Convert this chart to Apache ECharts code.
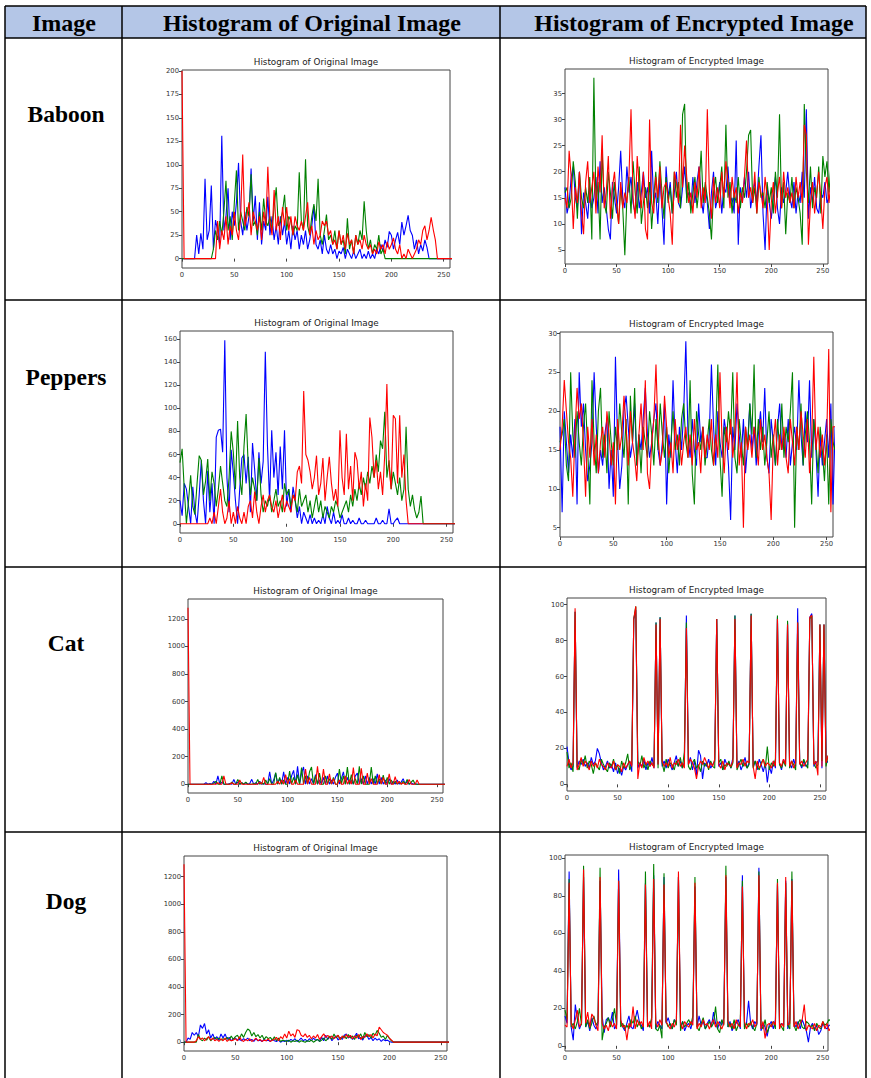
<!DOCTYPE html>
<html><head><meta charset="utf-8">
<script src="https://cdn.jsdelivr.net/npm/echarts@6/dist/echarts.min.js"></script>
<style>html,body{margin:0;padding:0;background:#fff}#c{width:871px;height:1078px}</style>
</head><body><div id="c"></div>
<script>
// ---------- texts ----------
const headers = ["Image", "Histogram of Original Image", "Histogram of Encrypted Image"];
const rowNames = ["Baboon", "Peppers", "Cat", "Dog"];
const origTitle = "Histogram of Original Image";
const encTitle = "Histogram of Encrypted Image";

// ---------- tick labels ----------
const xTicks = [0, 50, 100, 150, 200, 250];
const baboonOrigYTicks = [0, 25, 50, 75, 100, 125, 150, 175, 200];
const baboonEncYTicks = [5, 10, 15, 20, 25, 30, 35];
const peppersOrigYTicks = [0, 20, 40, 60, 80, 100, 120, 140, 160];
const peppersEncYTicks = [5, 10, 15, 20, 25, 30];
const catOrigYTicks = [0, 200, 400, 600, 800, 1000, 1200];
const catEncYTicks = [0, 20, 40, 60, 80, 100];
const dogOrigYTicks = [0, 200, 400, 600, 800, 1000, 1200];
const dogEncYTicks = [0, 20, 40, 60, 80, 100];

// ---------- data: one value every 2 intensity levels (0,2,4,...) ----------
const baboonOrigBlue = [
0,0,0,0,0,0,0,25,5,27, 10,85,20,30,78,10,41,30,15,131, 30,45,75,20,50,35,60,102,40,25,
50,30,45,96,40,67,20,60,15,40, 30,66,25,45,20,35,15,45,25,40, 15,30,10,35,20,30,10,25,15,30,
10,20,35,56,15,10,20,5,25,10, 5,15,5,10,0,8,5,12,0,10, 5,0,8,0,5,10,0,5,0,8,
0,5,0,10,5,15,8,20,12,29, 25,10,20,28,15,39,25,35,46,30, 25,10,20,5,15,8,20,12,0,0,
0,0,0,0,0,0,0,0,0,0];
const baboonOrigGreen = [
0,0,0,0,0,0,0,0,0,0, 0,0,0,0,0,10,30,20,40,25, 50,83,30,45,20,60,94,30,50,40,
30,55,45,90,35,40,25,50,30,64, 40,35,45,30,55,76,35,40,50,68, 30,45,40,25,35,30,92,40,30,106,
35,25,45,58,40,85,25,15,30,47, 20,25,15,30,10,30,15,20,5,43, 10,20,5,25,15,30,20,61,30,10,
20,5,15,10,25,5,10,0,0,0, 0,0,0,0,0,0,0,0,0,0, 0,0,0,0,0,0,0,0,0,0,
0,0,0,0,0,0,0,0,0,0];
const baboonOrigRed = [
200,0,0,0,0,0,0,0,0,0, 0,0,0,0,0,0,0,40,10,30, 20,45,15,35,25,50,30,20,45,111,
35,45,60,25,50,40,30,45,20,50, 35,98,40,25,73,30,45,20,55,35, 55,30,45,25,45,35,30,40,30,45,
60,25,35,15,30,20,25,40,35,40, 25,30,15,20,10,30,15,25,10,27, 15,20,5,25,15,20,10,25,15,10,
15,5,10,5,18,10,15,5,18,10, 15,22,10,5,15,0,5,0,10,5, 0,5,10,20,15,30,35,20,30,44,
31,20,0,0,0,0,0,0,0,0];

const baboonEncBlue = [
17,12,14,19,21,15,13,20,8,16, 14,11,17,13,15,19,12,22,14,17, 13,9,7,18,15,12,17,24,15,13,
21,16,19,14,12,18,13,16,20,15, 17,12,24,14,16,10,19,13,6,21, 15,18,12,16,20,14,13,17,21,15,
16,13,19,14,18,21,15,12,17,14, 9,16,20,13,15,18,12,17,16,21, 14,15,12,26,6,17,14,19,15,20,
13,16,18,14,21,27,12,5,17,14, 11,15,19,13,10,17,14,16,20,15, 13,18,12,16,14,20,15,32,11,17,
14,19,13,12,16,15,18,14,15,15];
const baboonEncGreen = [
16,17,13,15,22,18,11,20,15,13, 17,14,19,7,38,14,18,7,24,14, 12,20,16,11,18,14,10,17,13,4,
15,19,12,22,16,12,21,10,14,17, 13,18,9,15,20,14,22,16,11,19, 14,17,12,20,15,18,13,31,33,14,
18,12,16,19,13,17,24,14,18,15, 12,7,16,19,14,17,21,13,29,15, 18,12,16,14,19,13,17,15,20,27,
28,14,17,12,19,15,16,13,18,14, 17,12,20,15,31,13,18,8,16,14, 19,13,17,15,12,6,33,20,14,21,
13,17,15,21,12,23,19,22,16,22];
const baboonEncRed = [
15,13,24,19,9,17,14,20,12,8, 18,22,14,17,20,12,21,16,27,13, 16,23,11,17,20,14,10,18,13,16,
14,19,32,15,11,23,17,13,20,9, 7,30,14,12,19,15,21,13,17,18, 15,12,6,20,18,14,29,17,25,19,
14,16,12,18,15,21,13,17,14,32, 16,11,19,14,17,13,20,15,22,18, 13,19,15,17,12,16,14,19,26,15,
17,14,20,12,18,16,13,19,15,5, 14,18,12,16,19,13,20,15,17,14, 16,13,19,15,18,14,29,27,6,14,
18,12,16,20,15,9,17,19,14,19];

const peppersOrigBlue = [
20,7,35,30,15,0,32,10,0,25, 55,20,0,46,10,35,0,75,81,82, 62,159,40,10,64,44,20,0,30,57,
60,35,58,10,70,47,20,62,35,54, 149,68,20,81,40,62,25,67,30,81, 15,30,10,32,20,5,15,0,10,5,
0,8,0,5,0,3,0,8,0,15, 5,0,10,0,3,0,8,0,0,5, 0,3,0,0,5,0,0,3,0,0,
0,0,5,0,0,3,0,0,13,0, 0,3,5,0,0,0,0,0,0,0, 0,0,0,0,0,0,0,0,0,0,
0,0,0,0,0,0,0,0,0,0];
const peppersOrigGreen = [
53,65,30,0,20,42,15,8,35,59, 55,25,37,56,20,45,35,15,30,50, 35,20,15,40,80,62,30,89,40,25,
67,95,50,25,40,30,20,57,25,10, 20,15,25,10,20,30,15,20,10,35, 25,30,15,25,20,10,30,15,20,25,
10,20,5,15,25,10,20,5,15,10, 5,15,10,20,15,5,10,15,20,10, 25,15,30,20,35,25,40,30,45,35,
50,40,60,45,72,65,97,40,55,30, 45,35,25,40,20,30,84,30,15,25, 12,5,10,24,0,0,0,0,0,0,
0,0,0,0,0,0,0,0,0,0];
const peppersOrigRed = [
0,0,0,0,0,0,0,0,0,0, 0,0,0,0,5,0,10,0,15,30, 10,0,5,20,0,10,0,15,5,0,
10,0,15,20,5,28,10,0,15,25, 10,20,25,15,10,20,5,15,25,10, 20,15,10,25,20,45,50,35,115,60,
55,45,30,40,59,25,35,57,20,40, 58,35,20,30,15,81,40,25,78,30, 50,20,62,55,30,45,15,35,20,92,
75,40,55,30,45,25,60,121,50,30, 94,91,35,94,40,60,20,0,0,0, 0,0,0,0,0,0,0,0,0,0,
0,0,0,0,0,0,0,0,0,0];

const peppersEncBlue = [
18,7,20,16,12,17,14,19,8,25, 18,21,15,11,13,16,25,18,12,15, 13,17,19,10,15,9,27,16,10,13,
20,22,18,14,16,21,13,17,15,19, 23,17,14,16,19,21,15,13,16,21, 8,17,14,24,16,12,18,15,20,29,
17,14,19,15,13,21,16,18,14,14, 17,26,18,13,20,16,14,19,17,13, 6,18,15,21,17,14,19,12,16,21,
15,18,13,17,20,16,23,14,12,19, 16,13,18,21,15,17,14,19,13,16, 18,15,24,17,13,20,16,24,14,19,
15,9,17,13,16,19,14,21,8,18];
const peppersEncGreen = [
16,17,19,13,11,25,17,14,20,16, 13,18,21,15,8,24,16,12,20,23, 14,17,12,20,16,13,18,15,21,17,
14,19,8,22,16,23,13,17,12,18, 16,14,20,17,13,19,15,21,17,14, 18,12,16,20,15,17,13,19,21,16,
14,24,12,8,20,17,15,18,13,16, 19,15,13,17,26,14,9,18,16,20, 17,25,14,12,19,16,13,18,15,21,
17,26,14,19,15,18,13,16,20,14, 17,13,19,15,21,14,18,16,20,25, 5,18,15,21,13,17,20,16,8,19,
16,12,18,15,11,17,8,19,16,15];
const peppersEncRed = [
15,18,24,20,16,14,9,17,23,19, 21,16,9,18,14,19,13,17,12,16, 18,14,20,17,13,16,8,19,15,17,
22,18,13,20,16,14,11,17,21,15, 24,12,10,16,19,26,17,13,15,22, 18,14,16,12,19,15,17,13,16,18,
14,17,13,19,15,16,12,18,14,17, 15,19,13,17,14,25,16,12,18,15, 19,14,17,25,13,16,5,18,15,17,
14,18,16,13,19,15,17,14,12,6, 16,19,13,17,15,18,14,12,19,16, 13,18,15,20,17,14,19,12,16,27,
15,18,14,17,13,16,28,7,18,18];

const catOrigBlue = [
0,0,0,0,0,0,0,0,0,10, 0,5,0,20,0,60,0,15,0,0, 0,5,0,35,0,15,0,10,0,10,
0,5,35,0,10,0,20,0,5,0, 0,90,0,30,80,0,40,0,90,0, 50,0,60,100,0,130,0,80,125,0,
60,0,40,0,70,0,30,0,50,0, 60,0,30,0,50,80,0,40,90,0, 50,0,30,0,60,80,0,40,0,60,
0,50,0,40,0,75,0,50,0,30, 0,40,0,20,0,30,0,15,40,0, 20,0,10,0,5,0,0,0,0,0,
0,0,0,0,0,0,0,0,0,0];
const catOrigGreen = [
0,0,0,0,0,0,0,0,0,0, 0,0,0,5,20,0,0,60,0,0, 0,0,15,0,0,35,0,10,0,15,
0,0,0,5,0,35,0,10,0,30, 0,40,0,0,85,0,50,0,30,0, 0,95,0,50,0,70,0,120,0,60,
0,90,125,0,60,0,80,0,0,60, 0,40,0,50,0,0,110,0,60,0, 125,0,70,0,40,0,130,0,60,0,
0,0,125,0,60,0,40,0,65,0, 50,0,30,0,20,0,15,0,20,0, 35,0,15,30,0,0,0,0,0,0,
0,0,0,0,0,0,0,0,0,0];
const catOrigRed = [
1280,0,0,0,0,0,0,0,0,0, 0,0,0,0,0,10,0,0,60,0, 0,0,10,0,0,0,30,0,0,0,
0,0,0,0,0,0,15,0,50,0, 0,0,0,0,0,20,0,30,0,70, 0,40,0,0,30,0,0,0,0,110,
0,50,0,0,0,130,0,0,110,0, 0,75,0,40,0,0,30,0,0,60, 0,30,0,120,0,0,0,115,0,0,
80,0,40,0,0,0,70,0,50,0, 0,75,0,0,55,0,20,0,10,0, 0,35,0,0,0,30,0,0,0,0,
0,0,0,0,0,0,0,0,0,0];

const catEncBlue = [
21,12,8,10,96,9,13,11,14,10, 12,9,15,11,13,20,17,12,8,10, 13,9,11,7,12,6,9,5,10,8,
11,13,7,92,97,9,12,10,14,8, 12,10,15,9,90,11,93,10,13,9, 14,11,8,12,16,10,13,9,12,94,
11,15,8,13,5,19,16,3,12,10, 14,9,11,13,92,10,12,8,14,11, 12,9,15,94,10,13,8,11,15,9,
12,95,10,13,8,14,11,7,12,1, 10,6,13,9,93,12,8,14,11,90, 12,9,14,10,98,12,9,13,10,11,
93,95,10,12,13,89,9,89,14,12];
const catEncGreen = [
18,9,12,7,96,10,8,14,11,16, 9,13,11,6,12,10,8,14,11,9, 7,12,10,14,8,11,6,13,9,12,
17,8,11,92,99,13,10,16,9,12, 8,13,11,10,90,9,93,12,7,14, 9,12,11,8,13,10,15,9,18,90,
10,8,12,14,9,11,7,13,10,12, 8,13,10,9,92,12,14,8,11,10, 13,9,12,94,8,11,14,10,12,9,
11,95,9,13,10,8,12,14,9,21, 8,12,10,14,94,11,9,13,10,91, 9,13,11,8,90,12,10,14,11,9,
92,94,12,9,11,89,13,89,10,16];
const catEncRed = [
10,14,9,12,98,8,11,15,10,13, 11,8,13,10,12,9,14,11,10,8, 12,10,9,13,8,11,10,7,12,9,
11,13,10,92,99,3,12,9,15,11, 13,10,12,9,89,11,92,13,10,12, 10,15,9,12,11,14,10,12,9,87,
11,14,12,9,3,10,13,11,15,12, 9,12,10,14,92,11,9,13,8,12, 11,10,13,92,9,12,11,14,10,13,
12,94,10,3,13,9,11,14,10,12, 11,9,13,10,92,12,10,14,11,89, 10,13,9,12,90,11,13,10,12,14,
93,94,11,13,5,89,10,89,12,16];

const dogOrigBlue = [
0,0,30,20,70,50,70,40,125,100, 135,60,90,30,60,20,40,15,60,30, 60,20,35,10,25,30,15,20,10,25,
15,30,10,20,5,25,10,15,5,20, 10,15,5,20,10,5,15,0,10,5, 15,5,20,10,25,5,15,30,10,20,
5,25,10,30,15,20,5,35,10,50, 20,40,10,30,45,15,35,20,50,60, 30,45,20,40,65,25,35,15,45,50,
20,35,10,30,15,25,5,20,10,15, 5,0,0,0,0,0,0,0,0,0, 0,0,0,0,0,0,0,0,0,0,
0,0,0,0,0,0,0,0,0,0];
const dogOrigGreen = [
0,0,0,0,0,0,0,55,20,10, 30,15,40,10,25,35,20,30,15,25, 20,35,15,45,20,40,50,25,60,35,
70,95,85,45,70,40,55,30,50,20, 40,25,35,15,40,10,30,5,15,10, 5,15,0,10,5,15,0,10,5,0,
10,5,15,0,10,20,5,15,30,10, 25,45,20,60,30,50,20,35,45,25, 55,30,45,20,50,35,60,25,70,40,
55,30,65,50,85,65,35,45,20,50, 25,10,0,0,0,0,0,0,0,0, 0,0,0,0,0,0,0,0,0,0,
0,0,0,0,0,0,0,0,0,0];
const dogOrigRed = [
1290,0,0,0,0,0,10,40,20,30, 10,25,40,15,30,10,20,5,25,10, 30,5,20,10,15,25,10,40,15,5,
20,10,25,5,15,30,10,20,5,15, 10,25,5,15,20,35,10,40,25,60, 30,80,45,60,35,90,85,50,40,60,
35,50,25,45,30,55,20,40,60,35, 50,30,45,25,40,50,20,45,30,55, 35,50,25,45,30,55,20,40,35,60,
40,55,30,60,45,110,90,70,60,50, 30,15,0,0,0,0,0,0,0,0, 0,0,0,0,0,0,0,0,0,0,
0,0,0,0,0,0,0,0,0,0];

const dogEncBlue = [
16,12,93,10,3,22,14,9,12,90, 10,13,8,15,11,9,12,88,16,7, 14,15,12,18,9,11,94,13,10,8,
12,16,10,9,14,19,13,11,8,87, 12,10,14,91,9,13,11,9,90,12, 15,11,9,14,12,90,10,13,8,11,
12,9,14,85,10,16,11,13,9,12, 14,10,18,12,9,13,11,15,90,10, 13,8,11,12,14,9,91,10,12,24,
12,9,13,11,95,8,12,10,5,11, 13,9,14,86,10,12,11,88,9,14, 89,12,10,13,9,14,11,8,2,10,
12,9,11,6,8,12,10,9,11,11];
const dogEncGreen = [
19,14,89,10,12,9,13,20,11,96, 10,14,9,12,16,11,13,95,3,10, 12,15,10,14,20,11,88,10,12,9,
11,9,14,12,16,10,13,9,11,93, 12,10,15,97,9,8,11,4,92,13, 10,12,9,14,11,90,8,13,10,12,
14,11,16,90,10,8,12,15,9,11, 13,10,12,21,9,7,14,11,96,10, 12,9,14,8,11,13,88,9,12,10,
13,10,8,12,93,11,9,14,7,10, 11,13,9,89,12,10,8,87,11,9, 93,11,8,12,14,10,9,13,12,10,
11,8,12,10,9,13,11,12,14,13];
const dogEncRed = [
11,10,87,12,9,14,19,10,12,94, 12,18,10,17,15,11,8,90,12,9, 11,8,13,10,12,9,88,14,10,11,
3,12,10,21,9,14,11,13,10,86, 10,13,9,89,12,10,14,11,86,13, 11,9,12,10,14,93,12,9,13,11,
10,13,11,87,9,12,10,14,11,12, 9,12,14,10,13,11,9,12,91,13, 10,12,9,14,11,10,85,13,9,12,
11,14,10,12,91,9,13,4,11,12, 10,13,11,87,9,12,10,90,11,12, 88,10,13,9,12,14,22,8,11,10,
9,12,8,11,10,13,9,12,8,10];

// ---------- build ----------
const BIN_STEP = 2;
const toPoints = arr => arr.map((v, i) => [i * BIN_STEP, v]);

const panels = [
  {grid:[182,70,268,198], xMax:256, yMin:-10, yMax:201, yTicks:baboonOrigYTicks, title:origTitle, s:[baboonOrigBlue, baboonOrigGreen, baboonOrigRed]},
  {grid:[565,69,263,195], xMax:255, yMin:2.3, yMax:39.7, yTicks:baboonEncYTicks, title:encTitle, s:[baboonEncBlue, baboonEncGreen, baboonEncRed]},
  {grid:[180,331,273,202], xMax:256, yMin:-8, yMax:167, yTicks:peppersOrigYTicks, title:origTitle, s:[peppersOrigBlue, peppersOrigGreen, peppersOrigRed]},
  {grid:[560,332,273,205], xMax:256, yMin:3.8, yMax:30.2, yTicks:peppersEncYTicks, title:encTitle, s:[peppersEncBlue, peppersEncGreen, peppersEncRed]},
  {grid:[188,599,255,194], xMax:256, yMin:-64, yMax:1344, yTicks:catOrigYTicks, title:origTitle, s:[catOrigBlue, catOrigGreen, catOrigRed]},
  {grid:[567,598,259,193], xMax:256, yMin:-3.7, yMax:103.7, yTicks:catEncYTicks, title:encTitle, s:[catEncBlue, catEncGreen, catEncRed]},
  {grid:[184,856,263,195], xMax:256, yMin:-64, yMax:1350, yTicks:dogOrigYTicks, title:origTitle, s:[dogOrigBlue, dogOrigGreen, dogOrigRed]},
  {grid:[565,855,263,196], xMax:255, yMin:-2.75, yMax:101.75, yTicks:dogEncYTicks, title:encTitle, s:[dogEncBlue, dogEncGreen, dogEncRed]}
];
const lineColors = ['#0000ff', '#008000', '#ff0000'];
const tickFont = {fontSize:6.8, color:'#333', fontFamily:'DejaVu Sans', formatter: v => String(v)};

const grids = [], xAxes = [], yAxes = [], series = [], graphics = [];

// table
graphics.push({type:'rect', shape:{x:5, y:6, width:861, height:32}, style:{fill:'#b4c6e7'}, silent:true});
const hLines = [6, 38, 300, 567, 832];
const vLines = [5, 122, 500, 866];
hLines.forEach(y => graphics.push({type:'line', shape:{x1:5, y1:y, x2:866, y2:y}, style:{stroke:'#000', lineWidth:1.5}}));
vLines.forEach(x => graphics.push({type:'line', shape:{x1:x, y1:6, x2:x, y2:1078}, style:{stroke:'#000', lineWidth:1.5}}));
const headerX = [64, 312, 694];
headers.forEach((h, i) => graphics.push({type:'text', x:headerX[i], y:23,
  style:{text:h, align:'center', verticalAlign:'middle', fontFamily:'"Liberation Serif","Times New Roman",serif', fontWeight:'bold', fontSize:24, fill:'#000'}}));
const rowY = [114, 377, 643, 901];
rowNames.forEach((r, i) => graphics.push({type:'text', x:66, y:rowY[i],
  style:{text:r, align:'center', verticalAlign:'middle', fontFamily:'"Liberation Serif","Times New Roman",serif', fontWeight:'bold', fontSize:23.5, fill:'#000'}}));

panels.forEach((p, k) => {
  const [l, t, w, h] = p.grid;
  grids.push({left:l, top:t, width:w, height:h, show:true, borderColor:'#444', borderWidth:1, backgroundColor:'transparent'});
  xAxes.push({type:'value', gridIndex:k, min:0, max:p.xMax,
    axisLine:{show:false}, splitLine:{show:false},
    axisTick:{show:true, length:3, lineStyle:{color:'#444'}, customValues:xTicks},
    axisLabel:Object.assign({customValues:xTicks, margin:3}, tickFont)});
  yAxes.push({type:'value', gridIndex:k, min:p.yMin, max:p.yMax,
    axisLine:{show:false}, splitLine:{show:false},
    axisTick:{show:true, length:3, lineStyle:{color:'#444'}, customValues:p.yTicks},
    axisLabel:Object.assign({customValues:p.yTicks, margin:3}, tickFont)});
  p.s.forEach((arr, j) => series.push({type:'line', xAxisIndex:k, yAxisIndex:k, data:toPoints(arr),
    showSymbol:false, symbol:'none', clip:true, animation:false, silent:true,
    lineStyle:{color:lineColors[j], width:1.1}, z:2 + j}));
  graphics.push({type:'text', x:l + w / 2, y:t - 8.5,
    style:{text:p.title, align:'center', verticalAlign:'middle', fontFamily:'DejaVu Sans', fontSize:8.8, fill:'#222'}});
});

const chart = echarts.init(document.getElementById('c'), null, {renderer:'svg', width:871, height:1078});
chart.setOption({backgroundColor:'#fff', animation:false, grid:grids, xAxis:xAxes, yAxis:yAxes, series:series, graphic:graphics});
</script></body></html>
